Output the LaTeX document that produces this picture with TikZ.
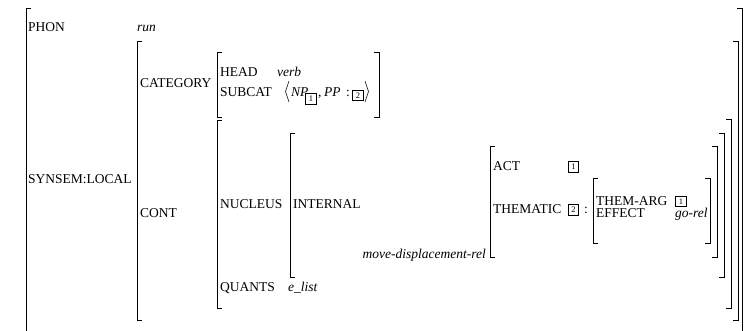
\documentclass[tikz,border=0pt]{standalone}
\usepackage{fontspec}
\setmainfont{Liberation Serif}
\begin{document}
\begin{tikzpicture}[x=1pt,y=-1pt,
  brk/.style={line width=0.9pt},
  ang/.style={line width=0.5pt},
  lbl/.style={anchor=base west,inner sep=0pt,font=\fontsize{13.5}{15}\selectfont},
  val/.style={anchor=base west,inner sep=0pt,font=\fontsize{13.5}{15}\selectfont\itshape},
  tag/.style={draw,line width=1.3pt,inner sep=0pt,minimum size=10.5pt,font=\fontsize{8.5}{8.5}\selectfont}]
\useasboundingbox (0,0) rectangle (749,331);
% brackets
\draw[brk] (31,8) -- (26,8) -- (26,331);
\draw[brk] (737,8) -- (742,8) -- (742,331);
\draw[brk] (142,41) -- (137,41) -- (137,320) -- (142,320);
\draw[brk] (733,41) -- (738,41) -- (738,320) -- (733,320);
\draw[brk] (222,52) -- (217,52) -- (217,117) -- (222,117);
\draw[brk] (374,52) -- (379,52) -- (379,117) -- (374,117);
\draw[brk] (222,120) -- (217,120) -- (217,308) -- (222,308);
\draw[brk] (726,119) -- (731,119) -- (731,308) -- (726,308);
\draw[brk] (295,133) -- (290,133) -- (290,277) -- (295,277);
\draw[brk] (719,133) -- (724,133) -- (724,277) -- (719,277);
\draw[brk] (495,146) -- (490,146) -- (490,257) -- (495,257);
\draw[brk] (712,146) -- (717,146) -- (717,257) -- (712,257);
\draw[brk] (598,178) -- (593,178) -- (593,243) -- (598,243);
\draw[brk] (705,178) -- (710,178) -- (710,243) -- (705,243);
% top level
\node[lbl] (phon) at (28,32) {PHON};
\node[val] (run) at (137,32) {run};
\node[lbl] (synsem) at (28,183) {SYNSEM:LOCAL};
% category
\node[lbl] (cat) at (140,88) {CATEGORY};
\node[lbl] (head) at (220,77) {HEAD};
\node[val] (verb) at (277,77) {verb};
\node[lbl] (subcat) at (220,97) {SUBCAT};
\draw[ang] (289,81) -- (285.5,91.5) -- (289,102);
\node[val] (np) at (291,97) {NP};
\node[tag] (t1) at (311,99) {1};
\node[lbl] (comma) at (318,97) {,};
\node[val] (pp) at (324,97) {PP};
\node[lbl] (colon1) at (346,97) {:};
\node[tag] (t2) at (358,95.5) {2};
\draw[ang] (365,81) -- (368.5,91.5) -- (365,102);
% content
\node[lbl] (cont) at (140,218) {CONT};
\node[lbl] (nuc) at (220,208) {NUCLEUS};
\node[lbl] (internal) at (293,208) {INTERNAL};
\node[lbl] (quants) at (220,291) {QUANTS};
\node[val] (elist) at (288,291) {e\_list};
\node[val,anchor=base east] (mdr) at (486,258) {move-displacement-rel};
\node[lbl] (act) at (493,171) {ACT};
\node[tag] (t3) at (573.5,167) {1};
\node[lbl] (them) at (493,214) {THEMATIC};
\node[tag] (t4) at (573.5,210) {2};
\node[lbl] (colon2) at (584,214) {:};
\node[lbl] (themarg) at (596,205) {THEM-ARG};
\node[tag] (t5) at (681,201.5) {1};
\node[lbl] (effect) at (596,218) {EFFECT};
\node[val] (gorel) at (675,218) {go-rel};
\end{tikzpicture}
\end{document}
